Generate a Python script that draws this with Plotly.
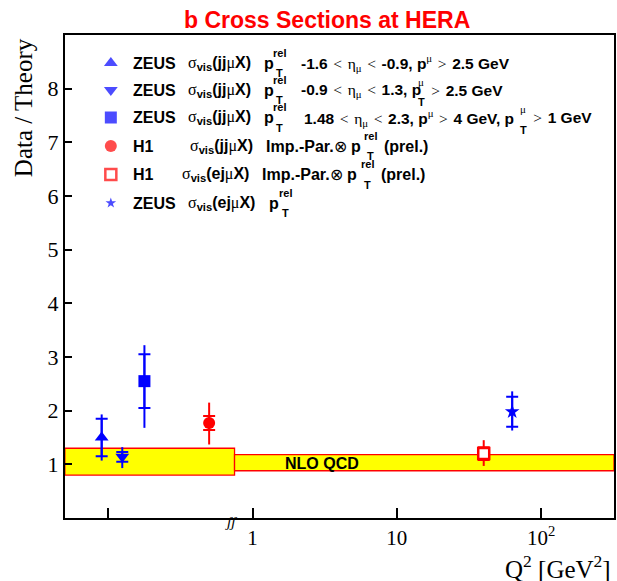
import plotly.graph_objects as go

# ---- measurements: data / NLO theory vs Q^2 ----
q2 = [0.09, 0.125, 0.178, 0.50, 40.0, 63.0]
ratio = [1.50, 1.14, 2.55, 1.77, 1.20, 1.98]
stat_err = [0.35, 0.09, 0.50, 0.13, 0.12, 0.28]
tot_err_up = [0.43, 0.18, 0.67, 0.38, 0.25, 0.38]
tot_err_dn = [0.43, 0.21, 0.87, 0.40, 0.23, 0.35]
symbols = ["triangle-up", "triangle-down", "square", "circle", "square", "star"]
colors = ["#0000ff", "#0000ff", "#0000ff", "#ff0000", "#ff0000", "#0000ff"]
fills = ["#0000ff", "#0000ff", "#0000ff", "#ff0000", "#ffffff", "#0000ff"]
sizes = [12, 12, 12, 12, 11, 11]
legend_sizes = [12, 12, 12, 12, 11, 8]

# ---- NLO QCD uncertainty bands (photoproduction / DIS) ----
band_x_phot = [0.05, 0.75]
band_phot = [0.80, 1.30]
band_x_dis = [0.75, 320.0]
band_dis = [0.88, 1.18]

# ---- axis ticks ----
x_tickvals = [0.1, 1, 10, 100]
x_ticktext = ["", "1", "10", "10<sup>2</sup>"]
y_tickvals = [1, 2, 3, 4, 5, 6, 7, 8]

W, H = 617, 581
PL, PR, PT, PB = 65, 616, 35, 518


def fx(px):
    return (px - PL) / (PR - PL)


def fy(py):
    return (PB - py) / (PB - PT)


BLUE, RED = "#0000ff", "#ff0000"
SANS = "Liberation Sans"
SERIF = "Liberation Serif"
HS = "\u200a"  # hair space


def g(s):
    return f'<span style="font-family:{SERIF};font-weight:normal">{s}</span>'


fig = go.Figure()

# bands
for bx, by in ((band_x_phot, band_phot), (band_x_dis, band_dis)):
    fig.add_trace(go.Scatter(
        x=[bx[0], bx[1], bx[1], bx[0], bx[0]],
        y=[by[0], by[0], by[1], by[1], by[0]],
        mode="lines", fill="toself", fillcolor="#ffff00",
        line=dict(color=RED, width=1.3), hoverinfo="skip", showlegend=False))

# data points: total error (line), stat error (crossbars) + marker
for i in range(len(q2)):
    fig.add_trace(go.Scatter(
        x=[q2[i]], y=[ratio[i]], mode="markers",
        marker=dict(size=1, opacity=0),
        error_y=dict(type="data", symmetric=False, array=[tot_err_up[i]],
                     arrayminus=[tot_err_dn[i]], width=0, thickness=2,
                     color=colors[i]),
        showlegend=False, hoverinfo="skip"))
    fig.add_trace(go.Scatter(
        x=[q2[i]], y=[ratio[i]], mode="markers",
        marker=dict(symbol=symbols[i], size=sizes[i], color=fills[i],
                    line=dict(color=colors[i], width=2.5 if fills[i] == "#ffffff" else 0)),
        error_y=dict(type="data", array=[stat_err[i]], width=6, thickness=2,
                     color=colors[i]),
        showlegend=False, hoverinfo="skip"))

# legend symbols on an overlay axis spanning the plot area
leg_rows = [63, 90, 117.5, 146, 174.5, 203]
fig.add_trace(go.Scatter(
    x=[fx(111)] * 6, y=[fy(r) for r in leg_rows], mode="markers",
    marker=dict(symbol=symbols, size=legend_sizes, color=fills,
                line=dict(color=colors, width=[0, 0, 0, 0, 2.5, 0])),
    xaxis="x2", yaxis="y2", showlegend=False, hoverinfo="skip"))

annotations = []


def txt(px, py, s, size=16, anchor="left", color="black", family=SANS, bold=True, **kw):
    annotations.append(dict(
        x=fx(px), y=fy(py), xref="paper", yref="paper", text=s, showarrow=False,
        xanchor=anchor, yanchor="middle",
        font=dict(family=family, size=size, color=color,
                  weight="bold" if bold else "normal"), **kw))


def stack(px, py, top, bot, dbot=3):
    txt(px, py - 10.5, top, size=11, borderpad=0)
    txt(px + dbot, py + 10, bot, size=11, borderpad=0)


CUT = 15.5
sig_jj = g("σ") + "<sub>vis</sub>(jj" + g("μ") + "X)"
sig_ej = g("σ") + "<sub>vis</sub>(ej" + g("μ") + "X)"
lt = HS + g("&lt;") + HS
gt = HS + g("&gt;") + HS
eta = g("η") + "<sub>" + g("μ") + "</sub>"

# row 1
r = leg_rows[0]
txt(131, r, "ZEUS")
txt(186, r, sig_jj)
txt(263, r, "p")
stack(273, r, "rel", "T")
txt(300, r, f"-1.6 {lt} {eta} {lt} -0.9, p<sup>{g('μ')}</sup> {gt} 2.5 GeV", size=CUT)
# row 2
r = leg_rows[1]
txt(131, r, "ZEUS")
txt(186, r, sig_jj)
txt(263, r, "p")
stack(273, r, "rel", "T")
txt(300, r, f"-0.9 {lt} {eta} {lt} 1.3, p", size=CUT)
stack(418, r + 2, g("μ"), "T", dbot=0)
txt(429, r, f"{gt} 2.5 GeV", size=CUT)
# row 3
r = leg_rows[2]
txt(131, r, "ZEUS")
txt(186, r, sig_jj)
txt(263, r, "p")
stack(273, r, "rel", "T")
txt(303, r, f"1.48 {lt} {eta} {lt} 2.3, p<sup>{g('μ')}</sup> {gt} 4 GeV, p", size=CUT)
stack(521, r + 2, g("μ"), "T", dbot=0)
txt(532, r, f"{gt} 1 GeV", size=CUT)
# row 4
r = leg_rows[3]
txt(131, r, "H1")
txt(188, r, sig_jj)
txt(265, r, "Imp.-Par." + g("⊗") + " p")
stack(364, r, "rel", "T")
txt(383, r, "(prel.)")
# row 5
r = leg_rows[4]
txt(131, r, "H1")
txt(180, r, sig_ej)
txt(261, r, "Imp.-Par." + g("⊗") + " p")
stack(361, r, "rel", "T")
txt(380, r, "(prel.)")
# row 6
r = leg_rows[5]
txt(131, r, "ZEUS")
txt(186, r, sig_ej)
txt(268, r, "p")
stack(279, r, "rel", "T")

# band label, title, axis titles, axis break mark
txt(322.5, 463.5, "NLO QCD", anchor="center")
txt(327.5, 20, "b Cross Sections at HERA", size=23, anchor="center", color=RED)
txt(615, 567, "Q<sup>2</sup> [GeV<sup>2</sup>]", size=25, anchor="right", family=SERIF, bold=False)
txt(23, 108, "Data / Theory", size=25, anchor="center", family=SERIF, bold=False, textangle=-90)
txt(232, 522, "<i>ʃʃ</i>", size=15, anchor="center", family=SERIF, bold=False)

fig.update_layout(
    width=W, height=H,
    margin=dict(l=PL, r=W - PR, t=PT, b=H - PB, pad=0),
    plot_bgcolor="white", paper_bgcolor="white",
    showlegend=False,
    annotations=annotations,
    xaxis=dict(type="log", range=[-1.30, 2.505], tickvals=x_tickvals, ticktext=x_ticktext,
               ticks="inside", ticklen=10, tickwidth=1.5, tickcolor="black",
               showline=True, linewidth=2, linecolor="black", mirror=True,
               showgrid=False, zeroline=False,
               tickfont=dict(family=SERIF, size=21, color="black")),
    yaxis=dict(range=[0, 9], tickvals=y_tickvals,
               ticks="inside", ticklen=7, tickwidth=1.5, tickcolor="black",
               showline=True, linewidth=2, linecolor="black", mirror=True,
               showgrid=False, zeroline=False,
               tickfont=dict(family=SERIF, size=22, color="black")),
    xaxis2=dict(overlaying="x", range=[0, 1], visible=False, fixedrange=True),
    yaxis2=dict(overlaying="y", range=[0, 1], visible=False, fixedrange=True),
)

fig.write_html("out.html")
